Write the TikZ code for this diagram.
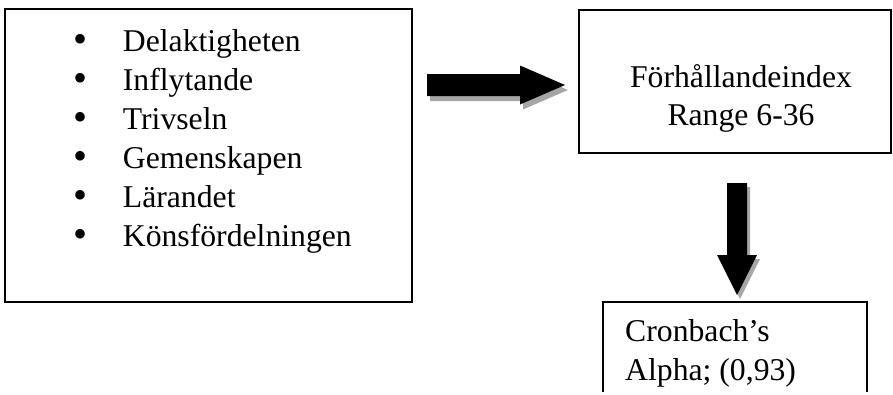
\documentclass[tikz,border=0pt]{standalone}
\usepackage{fontspec}
\setmainfont{Liberation Serif}
\begin{document}
\begin{tikzpicture}[x=1pt,y=1pt,
  box/.style={draw=black, line width=1.3pt, rectangle, inner sep=0pt},
  txt/.style={inner sep=0pt, font=\fontsize{31.7}{38}\selectfont},
  bul/.style={inner sep=0pt, font=\fontsize{40}{40}\selectfont},
  shadowfill/.style={fill=black!35},
  arrowfill/.style={fill=black}]
\useasboundingbox (0,0) rectangle (893,-394);

% left box with list
\node[box, minimum width=407pt, minimum height=293pt] (list) at (208.5,-155.5) {};
\foreach \i/\t/\y in {1/Delaktigheten/51.7, 2/Inflytande/90.7, 3/Trivseln/129.3,
                      4/Gemenskapen/168.3, 5/Lärandet/207.3, 6/Könsfördelningen/246.7}{
  \node[bul, anchor=center] (b\i) at (81,-\y+8.3) {•};
  \node[txt, anchor=base west] (t\i) at (122.7,-\y) {\t};
}

% right top box
\node[box, minimum width=312pt, minimum height=143pt] (idx) at (735,-81.5) {};
\node[txt, anchor=base] (idx1) at (741,-87) {Förhållandeindex};
\node[txt, anchor=base] (idx2) at (741,-125) {Range 6-36};

% bottom box (open at the bottom)
\coordinate (cbl) at (603,-392);
\coordinate (cbtl) at (603,-302);
\coordinate (cbtr) at (867,-302);
\coordinate (cbr) at (867,-392);
\draw[line width=1.3pt] (cbl) -- (cbtl) -- (cbtr) -- (cbr);
\node[txt, anchor=base west] (cr1) at (625,-341) {Cronbach’s};
\node[txt, anchor=base west] (cr2) at (625,-380) {Alpha; (0,93)};

% right block arrow with shadow
\begin{scope}[shift={(3,-5)}]
  \fill[shadowfill] (427,-74) -- (520,-74) -- (520,-65.5) -- (565,-85) -- (520,-104.5) -- (520,-96) -- (427,-96) -- cycle;
\end{scope}
\fill[arrowfill] (427,-74) -- (520,-74) -- (520,-65.5) -- (565,-85) -- (520,-104.5) -- (520,-96) -- (427,-96) -- cycle;

% down block arrow with shadow
\begin{scope}[shift={(3,-4)}]
  \fill[shadowfill] (727,-183) -- (747,-183) -- (747,-255) -- (757,-255) -- (737,-295) -- (717,-255) -- (727,-255) -- cycle;
\end{scope}
\fill[arrowfill] (727,-183) -- (747,-183) -- (747,-255) -- (757,-255) -- (737,-295) -- (717,-255) -- (727,-255) -- cycle;
\end{tikzpicture}
\end{document}
